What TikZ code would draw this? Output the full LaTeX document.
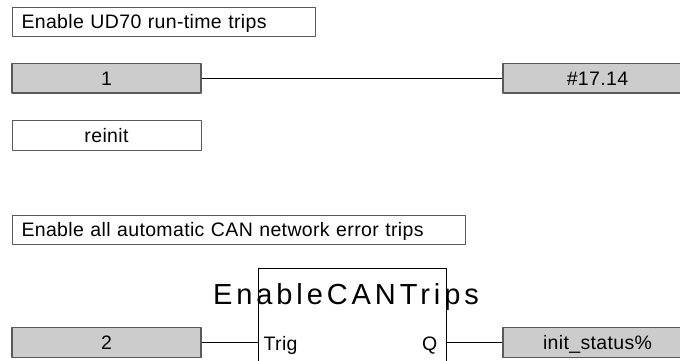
\documentclass[tikz,border=0pt]{standalone}
\usepackage{fontspec}
\setmainfont[WordSpace=1.6,LetterSpace=1.8]{Liberation Sans}
\newfontfamily\titlefont[LetterSpace=13.5]{Liberation Sans}
\definecolor{boxgray}{RGB}{204,204,204}
\definecolor{edgegray}{RGB}{90,90,90}
\begin{document}
\begin{tikzpicture}[x=1pt,y=-1pt,line join=round,line width=1.3pt,
font=\fontsize{19.5pt}{23pt}\selectfont,
box/.style={draw=edgegray,line width=1pt,minimum width=189pt,minimum height=29.5pt,inner sep=0pt,text height=14pt,text depth=0pt},
val/.style={box,fill=boxgray,line width=1.4pt},
cmt/.style={box,anchor=west,inner xsep=9pt,align=left},
pin/.style={inner sep=0pt}]
\clip (0,0) rectangle (680,360);
\node[cmt,text width=285pt] (c1) at (12,21.8) {Enable UD70 run-time trips};
\node[val] (v1) at (106.5,78.3) {1};
\node[val] (d1) at (597.5,78.3) {\#17.14};
\node[box] (ri) at (106.5,135.5) {reinit};
\node[cmt,text width=435pt] (c2) at (12,229.8) {Enable all automatic CAN network error trips};
\node[draw,line width=1.2pt,minimum width=188pt,minimum height=120pt,inner sep=0pt,anchor=north west] (fb) at (258,268) {};
\node[anchor=base,inner sep=0pt,font=\titlefont\fontsize{29pt}{34pt}\selectfont] (ttl) at (346,304) {EnableCANTrips};
\node[val] (v2) at (106.5,342.5) {2};
\node[val] (d2) at (597.5,342.5) {init\_status\%};
\node[pin,anchor=base west] (trig) at (263,350) {Trig};
\node[pin,anchor=base east] (q) at (438,350) {Q};
\draw (v1.east) -- (d1.west);
\draw (v2.east) -- (v2.east -| fb.west);
\draw (d2.west -| fb.east) -- (d2.west);
\end{tikzpicture}
\end{document}
